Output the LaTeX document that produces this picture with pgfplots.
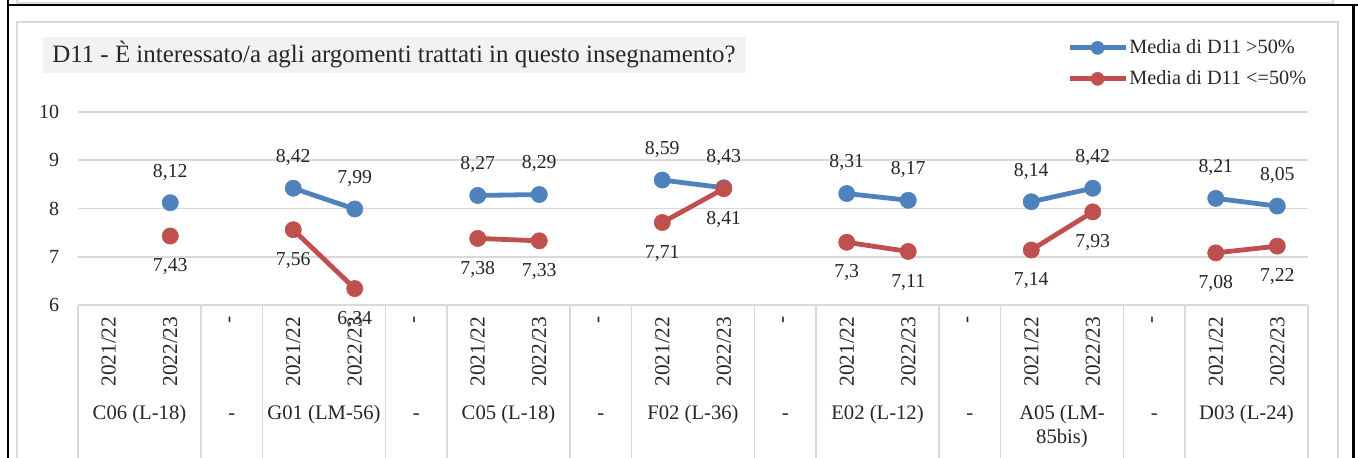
\documentclass[border=0pt]{standalone}
\usepackage{fontspec}
\setmainfont{Liberation Serif}
\usepackage{pgfplots}
\pgfplotsset{compat=1.18}
\definecolor{serieA}{HTML}{4F81BD}
\definecolor{serieB}{HTML}{C0504D}
\definecolor{griglia}{HTML}{D9D9D9}
\definecolor{titolo}{HTML}{F2F2F2}
\definecolor{testo}{HTML}{262626}

% 1 px of the reference = 0.75pt
\pgfplotsset{
  d11/.style={line width=3.6pt, mark=*, mark size=6.1pt,
    mark options={solid, line width=0.4pt},
    nodes near coords={\pgfmathprintnumber[use comma]{\pgfplotspointmeta}},
    point meta=y, forget plot},
  alta/.style={d11, color=serieA,
    every node near coord/.append style={anchor=center, yshift=23pt, text=testo,
      font=\fontsize{14.8}{16}\selectfont}},
  bassa/.style={d11, color=serieB,
    every node near coord/.append style={anchor=center, yshift=-23pt, text=testo,
      font=\fontsize{14.8}{16}\selectfont}},
}

\begin{document}
\begin{tikzpicture}
\useasboundingbox (0pt,0pt) rectangle (1018.5pt,342.75pt);
% frames
\draw[griglia, line width=1.2pt] (12.75pt,346pt) -- (12.75pt,340.5pt) -- (999.75pt,340.5pt) -- (999.75pt,346pt);
\draw[black, line width=1.9pt] (6pt,346pt) -- (6pt,-5pt);
\draw[black, line width=1.9pt] (5pt,339pt) -- (1022pt,339pt);
\draw[black, line width=1.9pt] (1015.1pt,339pt) -- (1015.1pt,-5pt);
\draw[griglia, line width=1.3pt] (12.75pt,-5pt) -- (12.75pt,326.25pt) -- (1003.5pt,326.25pt) -- (1003.5pt,-5pt);
% title
\fill[titolo] (32.25pt,288pt) rectangle (559.5pt,315pt);
\node[anchor=west, inner sep=0pt, text=testo, font=\fontsize{18.7}{20}\selectfont]
  at (39pt,302pt) {D11 - È interessato/a agli argomenti trattati in questo insegnamento?};

\begin{axis}[
  at={(58.5pt,114pt)}, anchor=south west,
  scale only axis, width=922.5pt, height=144.75pt,
  xmin=-0.5, xmax=19.5, ymin=6, ymax=10,
  clip=false,
  axis line style={draw=none},
  major tick length=0pt,
  ymajorgrids, grid style={griglia, line width=1.4pt},
  ytick={6,7,8,9,10},
  xtick={0,...,19},
  xticklabels={2021/22,2022/23,-,2021/22,2022/23,-,2021/22,2022/23,-,2021/22,2022/23,-,
               2021/22,2022/23,-,2021/22,2022/23,-,2021/22,2022/23},
  /pgf/number format/assume math mode=true,
  tick label style={text=testo, font=\fontsize{15}{17}\selectfont},
  xticklabel style={rotate=90, anchor=east, inner sep=0pt, font=\fontsize{16}{18}\selectfont},
  xticklabel shift=8.6pt,
  yticklabel style={anchor=east, inner sep=0pt},
  yticklabel shift=14pt,
  legend style={draw=none, fill=none, at={(0.804,1.252)}, anchor=west,
    inner sep=0pt, row sep=9.2pt, font=\fontsize{15.2}{17}\selectfont, text=testo,
    nodes={inner sep=1pt}},
  legend cell align=left,
  legend image code/.code={
    \draw[#1, line width=3.6pt] (0pt,0pt) -- (42pt,0pt);
    \fill[#1] (21pt,0pt) circle (4.9pt);},
]
\addlegendimage{color=serieA}
\addlegendentry{Media di D11 >50\%}
\addlegendimage{color=serieB}
\addlegendentry{Media di D11 <=50\%}

% Media di D11 >50%
\addplot[alta] coordinates {(1,8.12)};
\addplot[alta] coordinates {(3,8.42) (4,7.99)};
\addplot[alta] coordinates {(6,8.27) (7,8.29)};
\addplot[alta] coordinates {(9,8.59) (10,8.43)};
\addplot[alta] coordinates {(12,8.31) (13,8.17)};
\addplot[alta] coordinates {(15,8.14) (16,8.42)};
\addplot[alta] coordinates {(18,8.21) (19,8.05)};
% Media di D11 <=50%
\addplot[bassa] coordinates {(1,7.43)};
\addplot[bassa] coordinates {(3,7.56) (4,6.34)};
\addplot[bassa] coordinates {(6,7.38) (7,7.33)};
\addplot[bassa] coordinates {(9,7.71) (10,8.41)};
\addplot[bassa] coordinates {(12,7.30) (13,7.11)};
\addplot[bassa] coordinates {(15,7.14) (16,7.93)};
\addplot[bassa] coordinates {(18,7.08) (19,7.22)};

% category table below the axis
\pgfplotsinvokeforeach{-0.5,1.5,2.5,4.5,5.5,7.5,8.5,10.5,11.5,13.5,14.5,16.5,17.5,19.5}{
  \draw[griglia, line width=1.4pt] (axis cs:#1,6) -- ++(0pt,-130pt);
}
\begin{scope}[every node/.style={anchor=base, inner sep=0pt, text=testo,
    font=\fontsize{15.5}{17}\selectfont, yshift=-85.7pt}]
\node at (axis cs:0.5,6) {C06 (L-18)};
\node at (axis cs:2,6) {-};
\node at (axis cs:3.5,6) {G01 (LM-56)};
\node at (axis cs:5,6) {-};
\node at (axis cs:6.5,6) {C05 (L-18)};
\node at (axis cs:8,6) {-};
\node at (axis cs:9.5,6) {F02 (L-36)};
\node at (axis cs:11,6) {-};
\node at (axis cs:12.5,6) {E02 (L-12)};
\node at (axis cs:14,6) {-};
\node at (axis cs:15.5,6) {A05 (LM-};
\node[yshift=-18pt] at (axis cs:15.5,6) {85bis)};
\node at (axis cs:17,6) {-};
\node at (axis cs:18.5,6) {D03 (L-24)};
\end{scope}
\end{axis}
\end{tikzpicture}
\end{document}
